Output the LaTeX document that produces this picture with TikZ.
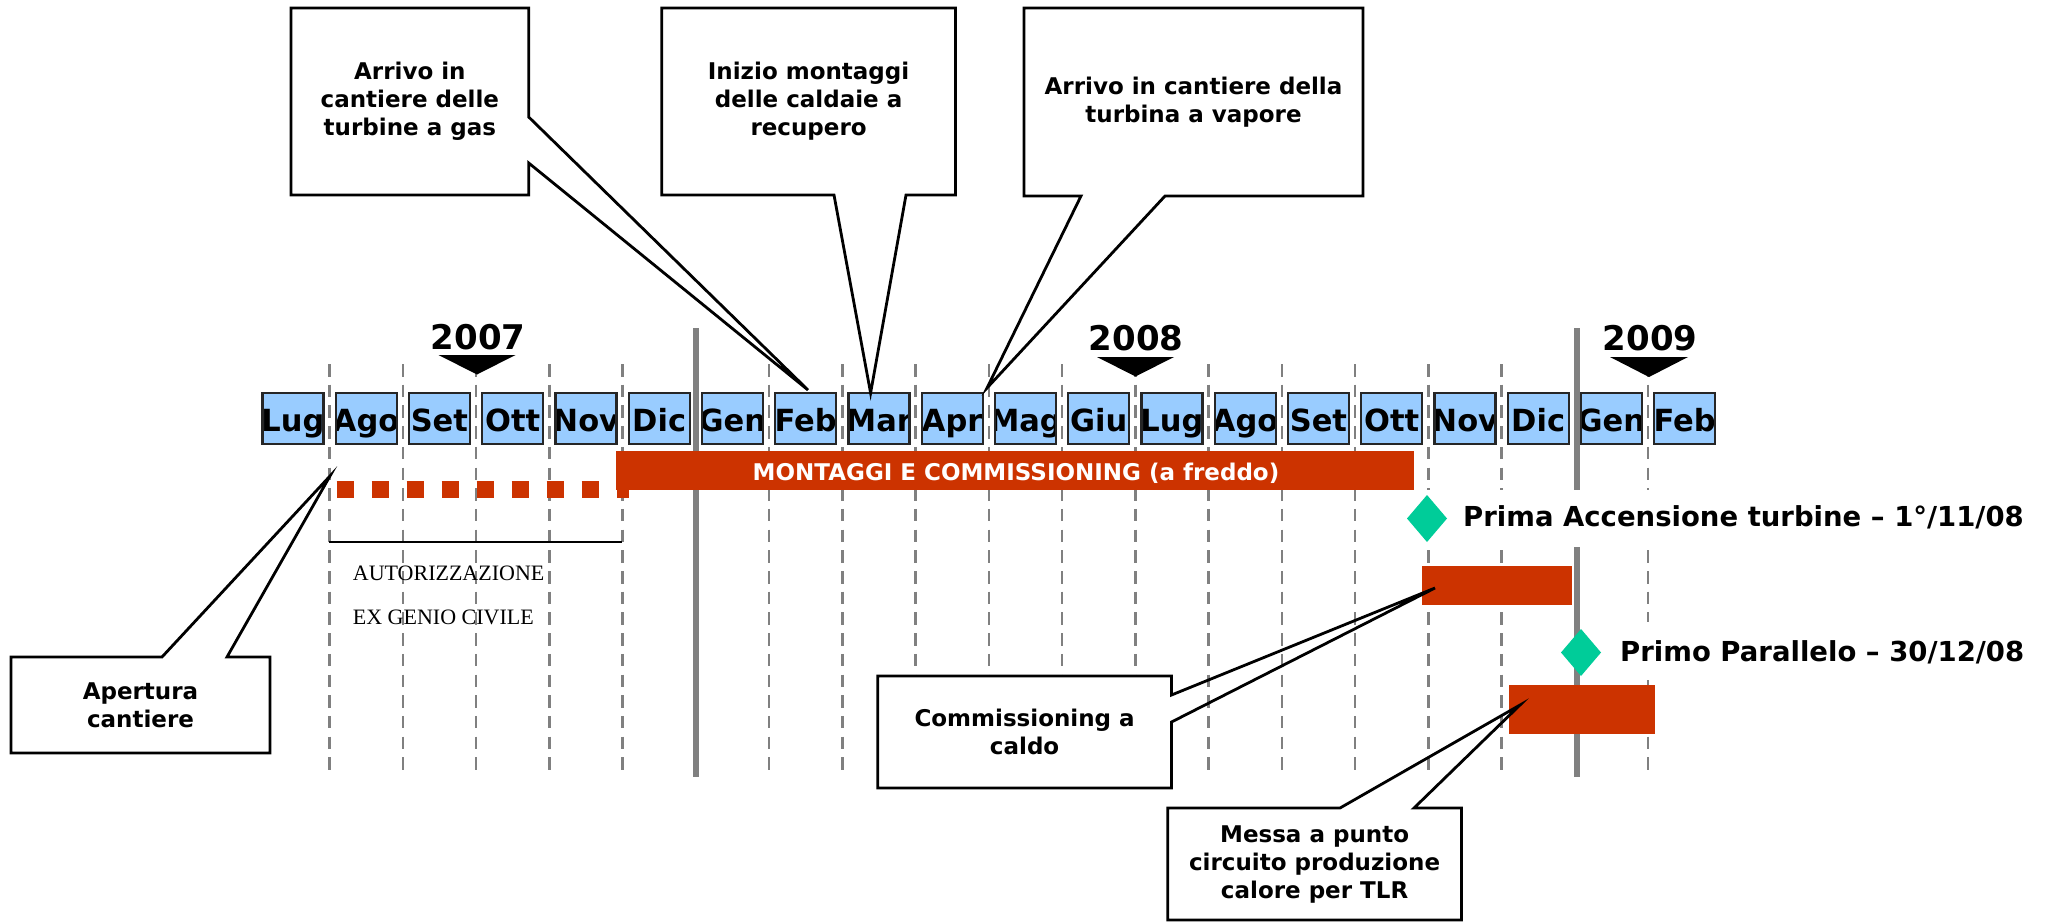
\documentclass[tikz,border=0pt]{standalone}
\usepackage{fontspec}
\setmainfont{DejaVu Sans}
\newfontfamily\seriffont{Liberation Serif}
\definecolor{mblue}{HTML}{99CCFF}
\definecolor{mred}{HTML}{CC3300}
\definecolor{mgreen}{HTML}{00CC99}
\definecolor{mgray}{HTML}{808080}
\tikzset{
  gridline/.style={draw=mgray, line width=2.5pt, dash pattern=on 12.5pt off 8.2pt},
  yearline/.style={draw=mgray, line width=6pt},
  monthbox/.style={rectangle, fill=mblue, minimum width=61pt, minimum height=51.5pt, inner sep=0pt, outer sep=0pt},
  monthborder/.style={draw=black!85, line width=2.2pt},
  monthtext/.style={anchor=base, inner sep=0pt, font=\fontsize{30.5}{36}\selectfont\bfseries},
  yeartext/.style={anchor=base, inner sep=0pt, font=\fontsize{34}{40}\selectfont\bfseries},
  yearmark/.style={fill=black},
  redbar/.style={rectangle, fill=mred, inner sep=0pt, outer sep=0pt},
  bartext/.style={anchor=base, inner sep=0pt, text=white, font=\fontsize{23}{28}\selectfont\bfseries},
  calloutbox/.style={rectangle, fill=white, inner sep=0pt, outer sep=0pt, align=center, font=\fontsize{23}{28}\selectfont\bfseries},
  calloutline/.style={draw=black, line width=2.8pt, line join=miter},
  milestone/.style={fill=mgreen},
  milestonetext/.style={anchor=base west, inner sep=0pt, font=\fontsize{27.5}{32}\selectfont\bfseries},
  serifnote/.style={anchor=base west, inner sep=0pt, font=\seriffont\fontsize{22}{26}\selectfont},
}
\begin{document}
\begin{tikzpicture}[x=1pt,y=-1pt]
\useasboundingbox (0,0) rectangle (2056,921);
\fill[white] (0,0) rectangle (2056,921);

% grid lines
\foreach \k in {1,2,3,4,5,7,8,9,10,11,12,13,14,15,16,17,19} {
  \pgfmathsetmacro\gx{256.25+73.25*\k}
  \coordinate (gt\k) at (\gx,364);
  \coordinate (gb\k) at (\gx,777);
  \draw[gridline] (gt\k) -- (gb\k);
}
\coordinate (yt6) at (695.75,328);
\coordinate (yb6) at (695.75,777);
\draw[yearline] (yt6) -- (yb6);
\coordinate (yt18) at (1576.5,328);
\coordinate (yb18) at (1576.5,777);
\draw[yearline] (yt18) -- (yb18);

% months
\foreach \m [count=\i from 0] in {Lug,Ago,Set,Ott,Nov,Dic,Gen,Feb,Mar,Apr,Mag,Giu,Lug,Ago,Set,Ott,Nov,Dic,Gen,Feb} {
  \pgfmathsetmacro\cx{292.9+73.25*\i}
  \node[monthbox] (m\i) at (\cx,418.5) {};
  \begin{scope}
    \clip (m\i.south west) rectangle (m\i.north east);
    \node[monthtext] (mt\i) at (\cx,431) {\m};
  \end{scope}
  \draw[monthborder] (m\i.south west) rectangle (m\i.north east);
}

% years
\node[yeartext] (y2007) at (478,349) {2007};
\fill[yearmark] (438.5,355) -- (515.5,355) -- (477,374.5) -- cycle;
\node[yeartext] (y2008) at (1136,350) {2008};
\fill[yearmark] (1097,357) -- (1174,357) -- (1135.5,376.5) -- cycle;
\node[yeartext] (y2009) at (1650,350) {2009};
\fill[yearmark] (1610,357) -- (1688,357) -- (1649,377) -- cycle;

% main red bar
\node[redbar, minimum width=798.3pt, minimum height=39pt] (montaggi) at (1014.85,470.5) {};
\node[bartext] (montaggitxt) at (1016,480) {MONTAGGI E COMMISSIONING (a freddo)};

% dashed red (apertura cantiere)
\coordinate (rd1) at (336.7,489.5);
\coordinate (rd2) at (629,489.5);
\draw[mred, line width=17.3pt, dash pattern=on 17.3pt off 17.7pt] (rd1) -- (rd2);

% autorizzazione
\coordinate (au1) at (329,542);
\coordinate (au2) at (622,542);
\draw[line width=1.5pt] (au1) -- (au2);
\node[serifnote] (aut1) at (352.7,580.7) {AUTORIZZAZIONE};
\node[serifnote] (aut2) at (352.7,624) {EX GENIO CIVILE};

% milestones
\fill[white] (1410,490) rectangle (2040,547);
\fill[white] (1600,622) rectangle (2045,680);
\fill[milestone] (1427,495) -- (1447,518.5) -- (1427,542) -- (1407,518.5) -- cycle;
\node[milestonetext] (prima) at (1463,526) {Prima Accensione turbine – 1°/11/08};
\fill[milestone] (1581,629) -- (1601,652.5) -- (1581,676) -- (1561,652.5) -- cycle;
\node[milestonetext] (primo) at (1620,661) {Primo Parallelo – 30/12/08};

% other bars
\node[redbar, minimum width=150pt, minimum height=39pt] (caldo) at (1497,585) {};
\node[redbar, minimum width=146pt, minimum height=49pt] (tlr) at (1582,709.5) {};

% callouts
\node[calloutbox, minimum width=259pt, minimum height=96pt] (ap) at (140.5,705) {Apertura\\cantiere};
\coordinate (aptip) at (330,476);
\draw[calloutline] (162,657) -- (ap.north west) -- (ap.south west) -- (ap.south east) -- (ap.north east) -- (227,657) -- (aptip) -- cycle;

\node[calloutbox, minimum width=237.7pt, minimum height=187pt] (ag) at (409.85,101.5) {Arrivo in\\cantiere delle\\turbine a gas};
\coordinate (agtip) at (808,390);
\draw[calloutline] (528.7,117) -- (ag.north east) -- (ag.north west) -- (ag.south west) -- (ag.south east) -- (528.7,163) -- (agtip) -- cycle;

\node[calloutbox, minimum width=293.8pt, minimum height=187pt] (in) at (808.6,101.5) {Inizio montaggi\\delle caldaie a\\recupero};
\coordinate (intip) at (870.6,393);
\draw[calloutline] (834,195) -- (in.south west) -- (in.north west) -- (in.north east) -- (in.south east) -- (906,195) -- (intip) -- cycle;

\node[calloutbox, minimum width=339pt, minimum height=188pt] (av) at (1193.5,102) {Arrivo in cantiere della\\turbina a vapore};
\coordinate (avtip) at (987,388);
\draw[calloutline] (1081,196) -- (av.south west) -- (av.north west) -- (av.north east) -- (av.south east) -- (1165,196) -- (avtip) -- cycle;

\node[calloutbox, minimum width=293.8pt, minimum height=112pt] (cc) at (1024.6,732) {Commissioning a\\caldo};
\coordinate (cctip) at (1435,588);
\draw[calloutline] (1171.5,695) -- (cc.north east) -- (cc.north west) -- (cc.south west) -- (cc.south east) -- (1171.5,722) -- (cctip) -- cycle;

\node[calloutbox, minimum width=293.8pt, minimum height=112pt] (ms) at (1314.6,864) {Messa a punto\\circuito produzione\\calore per TLR};
\coordinate (mstip) at (1520,705);
\draw[calloutline] (1340,808) -- (ms.north west) -- (ms.south west) -- (ms.south east) -- (ms.north east) -- (1414,808) -- (mstip) -- cycle;
\end{tikzpicture}
\end{document}
